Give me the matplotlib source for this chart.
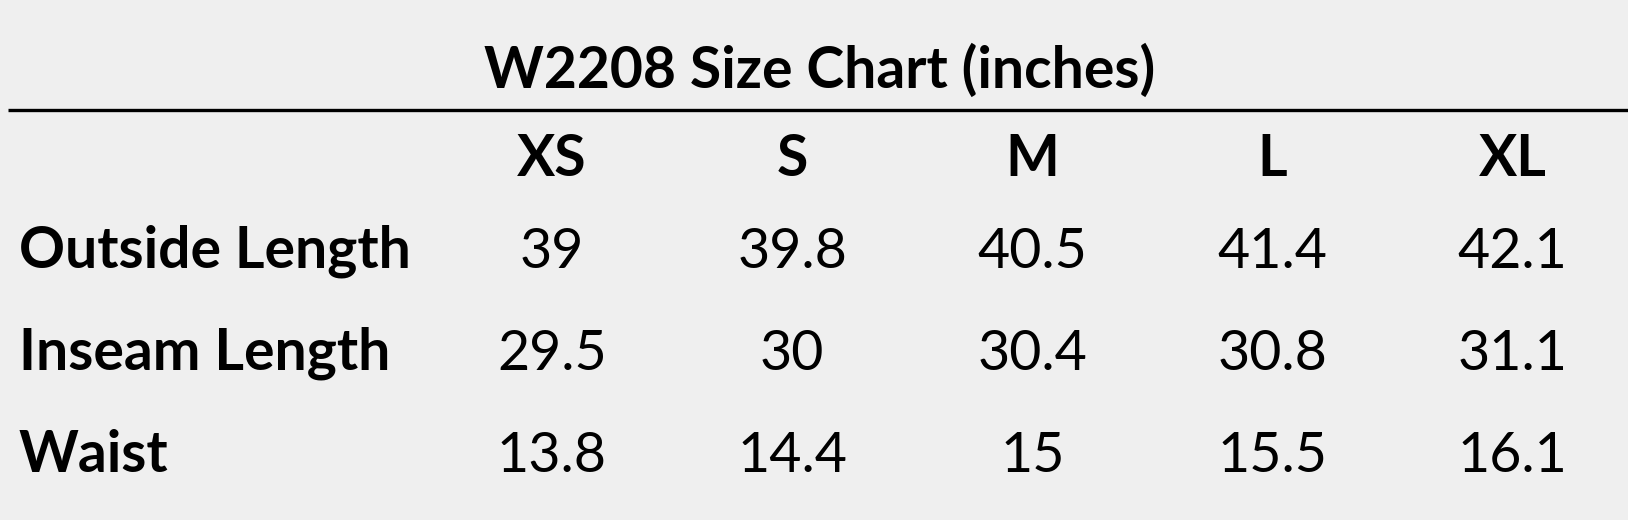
import matplotlib.pyplot as plt

# table content
title = "W2208 Size Chart (inches)"
sizes = ["XS", "S", "M", "L", "XL"]
measures = ["Outside Length", "Inseam Length", "Waist"]
outside_length = ["39", "39.8", "40.5", "41.4", "42.1"]
inseam_length = ["29.5", "30", "30.4", "30.8", "31.1"]
waist = ["13.8", "14.4", "15", "15.5", "16.1"]
rows = [outside_length, inseam_length, waist]

plt.rcParams["font.family"] = ["Lato", "DejaVu Sans"]

W, H = 1628, 520
fig = plt.figure(figsize=(W / 100, H / 100), dpi=100, facecolor="#efefef")
ax = fig.add_axes([0, 0, 1, 1])
ax.set_xlim(0, W)
ax.set_ylim(H, 0)
ax.axis("off")

fs = 40
fs_bold = 41
col_x0, col_dx = 552, 240.2  # column centres in pixels
label_x = 19
header_y = 176
row_y = [268, 370, 472]

ax.text(W / 2 + 6, 88, title, ha="center", va="baseline", fontsize=fs_bold, fontweight="bold")
ax.plot([8, W], [110, 110], color="black", lw=2.4, solid_capstyle="butt")

for j, s in enumerate(sizes):
    ax.text(col_x0 + j * col_dx, header_y, s, ha="center", va="baseline",
            fontsize=fs_bold, fontweight="bold")

for i, (name, vals) in enumerate(zip(measures, rows)):
    ax.text(label_x, row_y[i], name, ha="left", va="baseline", fontsize=fs_bold, fontweight="bold")
    for j, v in enumerate(vals):
        ax.text(col_x0 + j * col_dx, row_y[i], v, ha="center", va="baseline", fontsize=fs)

plt.savefig("out.png", dpi=100, facecolor=fig.get_facecolor())
